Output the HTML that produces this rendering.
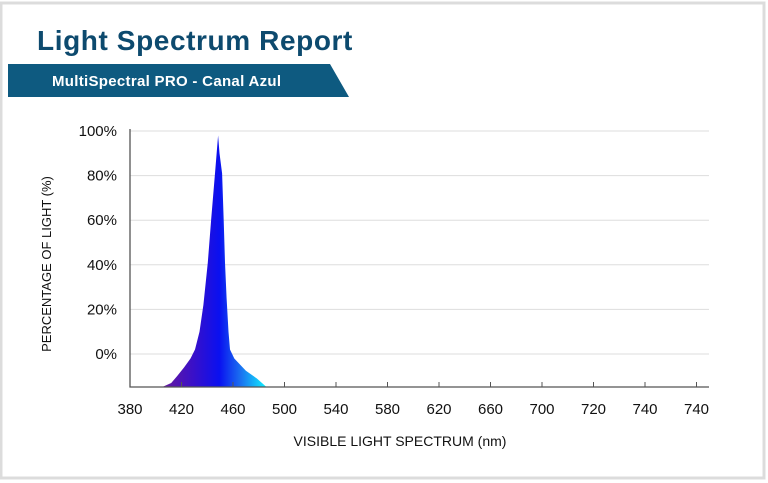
<!DOCTYPE html>
<html><head><meta charset="utf-8"><style>
body{margin:0;background:#fff;width:768px;height:483px;overflow:hidden;font-family:"Liberation Sans",sans-serif}
svg{display:block}
</style></head><body>
<svg id="chart" width="768" height="483">
<defs>
<linearGradient id="spec" x1="161" x2="267" y1="0" y2="0" gradientUnits="userSpaceOnUse">
<stop offset="0" stop-color="#6a1a9a"/><stop offset="0.3" stop-color="#3a10c8"/><stop offset="0.55" stop-color="#0a10f0"/><stop offset="0.75" stop-color="#1a70f0"/><stop offset="1" stop-color="#10f4ff"/>
</linearGradient>
</defs>
<rect x="0" y="0" width="768" height="483" fill="#fff"/>
<rect x="1" y="3" width="763" height="475" fill="none" stroke="#dcdcdc" stroke-width="3"/>
<text x="37" y="50" font-size="28" font-weight="bold" letter-spacing="0.6" fill="#0d4a6e">Light Spectrum Report</text>
<polygon points="8,64 330,64 349,97 8,97" fill="#0e5a80"/>
<text x="52" y="86" font-size="15" font-weight="bold" letter-spacing="0.3" fill="#fff">MultiSpectral PRO - Canal Azul</text>
<g id="grid"></g>
<path id="area" fill="url(#spec)"/>
<g id="axes"></g>
<text x="400" y="446" font-size="14" text-anchor="middle" fill="#111">VISIBLE LIGHT SPECTRUM (nm)</text>
<text transform="translate(51,264) rotate(-90)" font-size="13" text-anchor="middle" fill="#111">PERCENTAGE OF LIGHT (%)</text>
</svg>
<script>
const xTickLabels=["380","420","460","500","540","580","620","660","700","720","740","740"];
const yTickValues=[0,20,40,60,80,100];
const wavelengths=[405,412,416.5,422,427,430.5,434,437,440.4,443,446,448.4,449.5,451.5,452.8,453.8,455,456.5,457.7,461,470,478.6,486];
const intensities=[-15,-13,-10,-6,-2,2,10,22,41,60,81,98,90,81,60,41,25,10,2,-2,-7.5,-11,-15];
const NS='http://www.w3.org/2000/svg';
const x0=130,dx=51.5,nm0=380,nmStep=40;
function xs(nm){return x0+(nm-nm0)/nmStep*dx;}
function ys(v){return 354-v*2.23;}
const yBottom=387;
const grid=document.getElementById('grid'),axes=document.getElementById('axes');
yTickValues.forEach(v=>{
 const l=document.createElementNS(NS,'line');
 l.setAttribute('x1',x0);l.setAttribute('x2',709);l.setAttribute('y1',ys(v));l.setAttribute('y2',ys(v));
 l.setAttribute('stroke','#ddd');l.setAttribute('stroke-width','1');
 
 
 grid.appendChild(l);
 const t=document.createElementNS(NS,'text');
 t.setAttribute('x',117);t.setAttribute('y',ys(v)+5);t.setAttribute('text-anchor','end');t.setAttribute('font-size','15');t.setAttribute('fill','#111');
 t.textContent=v+'%';
 
 
 axes.appendChild(t);
});
let d='M'+xs(wavelengths[0])+','+yBottom;
wavelengths.forEach((w,i)=>{d+=' L'+xs(w).toFixed(1)+','+Math.min(yBottom,ys(intensities[i])).toFixed(1);});
d+=' L'+xs(wavelengths[wavelengths.length-1])+','+yBottom+' Z';
document.getElementById('area').setAttribute('d',d);
const ax=document.createElementNS(NS,'path');
ax.setAttribute('d','M'+x0+',129 L'+x0+','+yBottom+' L709,'+yBottom);
ax.setAttribute('stroke','#555');ax.setAttribute('fill','none');ax.setAttribute('stroke-width','1.3');


axes.appendChild(ax);
xTickLabels.forEach((lab,i)=>{
 const x=x0+i*dx;
 if(i>0){const tk=document.createElementNS(NS,'line');
 tk.setAttribute('x1',x);tk.setAttribute('x2',x);tk.setAttribute('y1',yBottom-5);tk.setAttribute('y2',yBottom);tk.setAttribute('stroke','#555');
 
 
 axes.appendChild(tk);}
 const t=document.createElementNS(NS,'text');
 t.setAttribute('x',x);t.setAttribute('y',414);t.setAttribute('text-anchor','middle');t.setAttribute('font-size','15');t.setAttribute('fill','#111');
 t.textContent=lab;
 
 
 axes.appendChild(t);
});
</script>
</body></html>
